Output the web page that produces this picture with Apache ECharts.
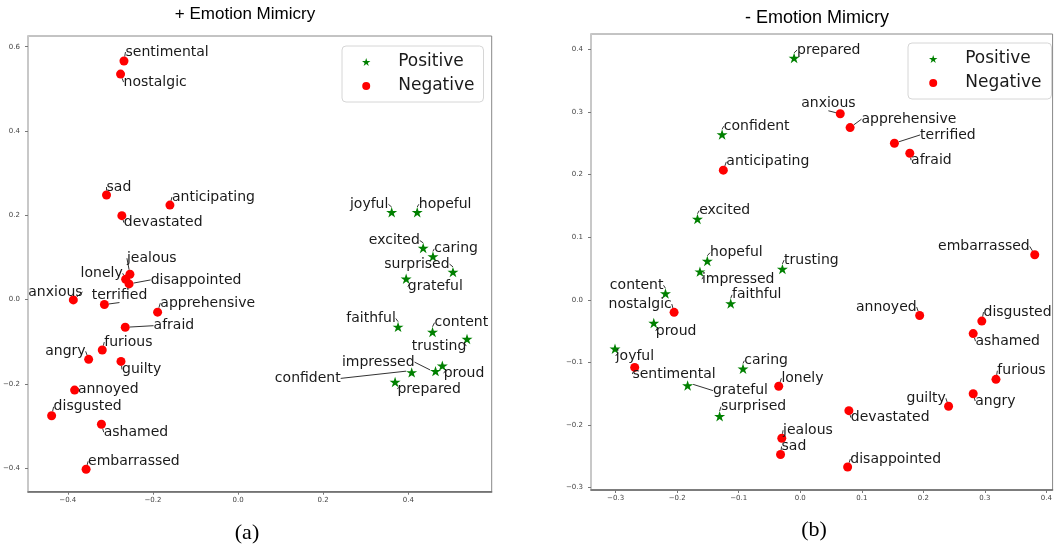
<!DOCTYPE html>
<html><head><meta charset="utf-8">
<script src="https://cdn.jsdelivr.net/npm/echarts@6/dist/echarts.min.js"></script>
<style>html,body{margin:0;padding:0;background:#fff}#c{width:1055px;height:544px}</style>
</head><body><div id="c"></div>
<script>
// ---- data: [word, x, y] ----
const a_positive = [
  ['joyful',0.361,0.207],['hopeful',0.421,0.207],['excited',0.435,0.122],['caring',0.458,0.102],
  ['surprised',0.505,0.065],['grateful',0.395,0.049],['faithful',0.376,-0.065],['content',0.457,-0.077],
  ['trusting',0.538,-0.094],['impressed',0.464,-0.170],['confident',0.408,-0.173],['proud',0.480,-0.157],
  ['prepared',0.369,-0.196]
];
const a_negative = [
  ['sentimental',-0.268,0.566],['nostalgic',-0.276,0.535],['sad',-0.309,0.248],['anticipating',-0.160,0.224],
  ['devastated',-0.273,0.199],['jealous',-0.254,0.060],['lonely',-0.264,0.048],['disappointed',-0.256,0.037],
  ['anxious',-0.387,-0.001],['terrified',-0.314,-0.012],['apprehensive',-0.189,-0.030],['afraid',-0.265,-0.066],
  ['furious',-0.319,-0.120],['angry',-0.351,-0.142],['guilty',-0.275,-0.147],['annoyed',-0.384,-0.215],
  ['disgusted',-0.438,-0.276],['ashamed',-0.321,-0.296],['embarrassed',-0.357,-0.403]
];
const b_positive = [
  ['prepared',-0.010,0.386],['confident',-0.127,0.264],['excited',-0.167,0.129],['hopeful',-0.151,0.062],
  ['impressed',-0.163,0.045],['trusting',-0.029,0.049],['content',-0.219,0.010],['faithful',-0.113,-0.006],
  ['proud',-0.238,-0.037],['joyful',-0.301,-0.078],['caring',-0.093,-0.110],['grateful',-0.183,-0.137],
  ['surprised',-0.131,-0.186]
];
const b_negative = [
  ['anticipating',-0.125,0.207],['nostalgic',-0.205,-0.020],['sentimental',-0.269,-0.108],['lonely',-0.035,-0.138],
  ['jealous',-0.030,-0.221],['sad',-0.032,-0.247],['anxious',0.065,0.297],['apprehensive',0.081,0.275],
  ['terrified',0.153,0.250],['afraid',0.178,0.234],['embarrassed',0.381,0.072],['annoyed',0.194,-0.025],
  ['disgusted',0.295,-0.034],['ashamed',0.281,-0.054],['furious',0.318,-0.127],['angry',0.281,-0.150],
  ['guilty',0.241,-0.170],['devastated',0.079,-0.177],['disappointed',0.077,-0.267]
];
const a_xTicks = [-0.4,-0.2,0.0,0.2,0.4];
const a_yTicks = [-0.4,-0.2,0.0,0.2,0.4,0.6];
const b_xTicks = [-0.3,-0.2,-0.1,0.0,0.1,0.2,0.3,0.4];
const b_yTicks = [-0.3,-0.2,-0.1,0.0,0.1,0.2,0.3,0.4];
const seriesNames = ['Positive','Negative'];
const titles = ['+ Emotion Mimicry','- Emotion Mimicry'];
const panelTags = ['(a)','(b)'];

// ---- annotation text placement (pixel offsets from marker, anchor side) ----
const labelPos = {
  a: {
    sentimental:[1.5,-9,'l'], nostalgic:[3,8,'l'], sad:[0,-8,'l'], anticipating:[2,-8,'l'],
    devastated:[2,7,'l'], jealous:[-3,-16,'l'], lonely:[-3,-6,'r'], disappointed:[21.6,-4,'l'],
    anxious:[9.3,-8,'r'], terrified:[-12.7,-9,'l'], apprehensive:[2.7,-9,'l'], afraid:[28.3,-1.6,'l'],
    furious:[2,-8,'l'], angry:[-3,-8,'r'], guilty:[1,8,'l'], annoyed:[3.3,-1,'l'],
    disgusted:[2,-9,'l'], ashamed:[2.3,8,'l'], embarrassed:[2,-8,'l'],
    joyful:[-3.3,-8,'r'], hopeful:[1.6,-8,'l'], excited:[-3.4,-7.6,'r'], caring:[1.3,-7.7,'l'],
    surprised:[-3.4,-8,'r'], grateful:[1.6,7.7,'l'], faithful:[-2.3,-8.4,'r'], content:[2,-9.3,'l'],
    trusting:[-0.7,7,'r'], impressed:[-21,-9,'r'], confident:[-71,6,'r'], proud:[1.3,7.6,'l'],
    prepared:[2.4,7,'l']
  },
  b: {
    prepared:[3,-8,'l'], confident:[1.7,-8.3,'l'], anticipating:[3,-8.3,'l'], excited:[1.7,-8.4,'l'],
    hopeful:[2.7,-8.3,'l'], impressed:[2,7.6,'l'], trusting:[1.7,-9,'l'], content:[-2,-8.3,'r'],
    faithful:[1.3,-8.7,'l'], nostalgic:[-2.3,-8.3,'r'], proud:[2,8,'l'], joyful:[0.7,7.3,'l'],
    sentimental:[-2.3,6.6,'l'], caring:[1.3,-8,'l'], grateful:[25.3,5,'l'], lonely:[2.7,-8,'l'],
    surprised:[1.3,-9.6,'l'], jealous:[1.3,-8,'l'], sad:[1,-8,'l'], anxious:[15.3,-10,'r'],
    apprehensive:[11.4,-8.4,'l'], terrified:[25.7,-8.3,'l'], afraid:[1.3,7,'l'], embarrassed:[-5,-8.3,'r'],
    annoyed:[-3,-8.4,'r'], disgusted:[1.7,-9,'l'], ashamed:[2.3,7.6,'l'], furious:[1.4,-8.6,'l'],
    angry:[2,7.3,'l'], guilty:[-2.7,-8,'r'], devastated:[2,7,'l'], disappointed:[2.7,-8,'l']
  }
};

const STAR = 'path://M100,0 L122.45,69.1 L195.1,69.1 L136.33,111.8 L158.8,180.9 L100,138.2 L41.2,180.9 L63.67,111.8 L4.9,69.1 L77.55,69.1 Z';
const fmt = v => (Math.abs(v) < 1e-9 ? '0.0' : v.toFixed(1)).replace('-', '\u2212');
const FONT = 'DejaVu Sans';

const seriesMeta = [
  {plot:'a', grid:0, name:seriesNames[0], arr:a_positive, sym:STAR, size:11, color:'#008000'},
  {plot:'a', grid:0, name:seriesNames[1], arr:a_negative, sym:'circle', size:9, color:'#ff0000'},
  {plot:'b', grid:1, name:seriesNames[0], arr:b_positive, sym:STAR, size:11, color:'#008000'},
  {plot:'b', grid:1, name:seriesNames[1], arr:b_negative, sym:'circle', size:9, color:'#ff0000'}
];

function axisCommon(ticks, isX) {
  return {
    type:'value', splitLine:{show:false},
    axisLine:{show:true, onZero:false, lineStyle: isX ? {color:'#666', width:1.5} : {color:'#c8c8c8', width:2}},
    axisTick:{show:true, customValues:ticks, length:3, lineStyle:{color:'#777'}},
    axisLabel:{customValues:ticks, formatter:fmt, fontSize:7, color:'#444', fontFamily:FONT, margin: isX ? 5 : 8}
  };
}

const option = {
  animation:false,
  backgroundColor:'#fff',
  title:[
    {text:titles[0], left:245, top:6, padding:0, textAlign:'center', textStyle:{fontFamily:'Liberation Sans', fontSize:17, fontWeight:'normal', color:'#000'}},
    {text:titles[1], left:817, top:9.5, padding:0, textAlign:'center', textStyle:{fontFamily:'Liberation Sans', fontSize:18, fontWeight:'normal', color:'#000'}},
    {text:panelTags[0], left:247, top:522, padding:0, textAlign:'center', textStyle:{fontFamily:'Liberation Serif', fontSize:22, fontWeight:'normal', color:'#000'}},
    {text:panelTags[1], left:814, top:519, padding:0, textAlign:'center', textStyle:{fontFamily:'Liberation Serif', fontSize:22, fontWeight:'normal', color:'#000'}}
  ],
  legend:[
    {data:seriesNames, orient:'vertical', left:342, top:46, itemWidth:54, itemHeight:8, itemGap:4,
     padding:[6,9,6,20], borderColor:'#d6d6d6', borderWidth:1, borderRadius:4, backgroundColor:'rgba(255,255,255,0.8)',
     textStyle:{fontFamily:FONT, fontSize:17, color:'#1a1a1a', lineHeight:20}},
    {data:seriesNames, orient:'vertical', left:908, top:43, itemWidth:54, itemHeight:8, itemGap:4,
     padding:[6,10,6,21], borderColor:'#d6d6d6', borderWidth:1, borderRadius:4, backgroundColor:'rgba(255,255,255,0.8)',
     textStyle:{fontFamily:FONT, fontSize:17, color:'#1a1a1a', lineHeight:20}}
  ],
  grid:[
    {left:25, right:563.3, top:36, bottom:52.3, show:true, borderColor:'#888', borderWidth:1},
    {left:591, right:2, top:34, bottom:54, show:true, borderColor:'#888', borderWidth:1}
  ],
  xAxis:[
    Object.assign(axisCommon(a_xTicks, true), {gridIndex:0, min:-0.4935, max:0.596}),
    Object.assign(axisCommon(b_xTicks, true), {gridIndex:1, min:-0.340, max:0.410})
  ],
  yAxis:[
    Object.assign(axisCommon(a_yTicks, false), {gridIndex:0, min:-0.4562, max:0.6254}),
    Object.assign(axisCommon(b_yTicks, false), {gridIndex:1, min:-0.3037, max:0.4244})
  ],
  series: seriesMeta.map((m, si) => ({
    type:'scatter', name:m.name, xAxisIndex:m.grid, yAxisIndex:m.grid,
    symbol:m.sym, symbolSize:m.size, symbolKeepAspect:true,
    itemStyle:{color:m.color, opacity:1},
    data:m.arr.map(d => ({name:d[0], value:[d[1], d[2]]})),
    label:{show:true, formatter:'{b}', position:'inside', fontFamily:FONT, fontSize:14, color:'#1a1a1a'},
    labelLine:{show:true, lineStyle:{color:'#333', width:1}},
    labelLayout: function (p) {
      const meta = seriesMeta[p.seriesIndex];
      const word = meta.arr[p.dataIndex][0];
      const o = labelPos[meta.plot][word] || [2,-8,'l'];
      const cx = p.rect.x + p.rect.width / 2;
      const cy = p.rect.y + p.rect.height / 2;
      return {x: cx + o[0], y: cy + o[1], align: o[2] === 'r' ? 'right' : 'left', verticalAlign:'middle'};
    },
    emphasis:{disabled:true}
  }))
};
const chart = echarts.init(document.getElementById('c'), null, {renderer:'canvas'});
chart.setOption(option);
</script></body></html>
